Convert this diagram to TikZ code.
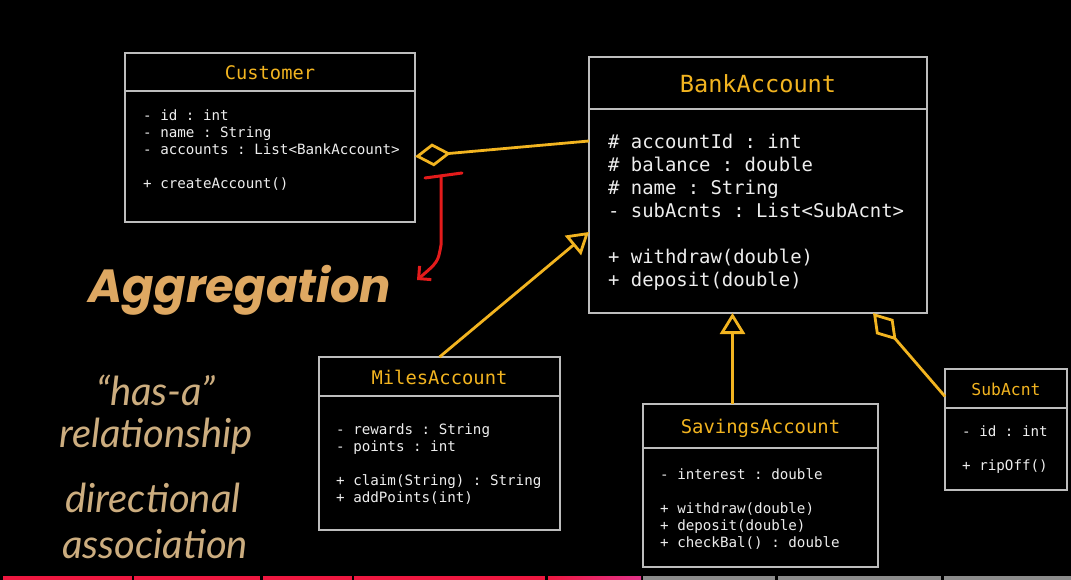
\documentclass[tikz,border=0pt]{standalone}
\usepackage{fontspec}
\setmonofont{DejaVu Sans Mono}
\newfontfamily\bannerfont{Poppins}
\newfontfamily\notefont{Lato}
\usepackage{tikz}
\usetikzlibrary{positioning, arrows.meta}
\definecolor{uBack}{HTML}{000000}
\definecolor{uGray}{HTML}{BDBDBD}
\definecolor{uGold}{HTML}{F2B420}
\definecolor{uInk}{HTML}{EDEDED}
\definecolor{uTan}{HTML}{DEA862}
\definecolor{uSand}{HTML}{CCAD7F}
\definecolor{uPen}{HTML}{E31B1B}
\definecolor{uBar}{HTML}{EE1840}
\definecolor{uBarPink}{HTML}{E3348A}
\definecolor{uBarDim}{HTML}{8C8C8C}
\tikzset{
  clshead/.style={draw=uGray, line width=2.6pt, fill=uBack, text=uGold, inner sep=0pt, outer sep=0pt,
    anchor=north west, font=\fontsize{#1}{#1}\selectfont\ttfamily, text height=0.8*#1pt, text depth=0pt},
  clsbody/.style={draw=uGray, line width=2.6pt, inner sep=0pt, outer sep=0pt},
  members/.style={text=uInk, align=left, inner sep=0pt, anchor=north west,
    font=\fontsize{14.2}{17}\selectfont\ttfamily},
  bigmembers/.style={members, font=\fontsize{18.9}{23}\selectfont\ttfamily},
  agg/.style={draw=uGold, line width=2.8pt, {Diamond[open, length=36pt, width=23pt]}-},
  inh/.style={draw=uGold, line width=2.8pt, -{Triangle[open, length=21pt, width=25pt]}},
  pen/.style={draw=uPen, line width=3pt, line cap=round, line join=round},
  note/.style={text=uSand, font=\fontsize{40}{44}\selectfont\notefont\itshape}
}

\begin{document}
\begin{tikzpicture}[x=1pt, y=-1pt]
  \fill[uBack] (0,0) rectangle (1071,580);

  % classes
  \node[clshead=18.7, minimum width=290pt, minimum height=38pt] (custH) at (125,53) {Customer};
  \node[clsbody, minimum width=290pt, minimum height=131pt, below=0pt of custH] (custB) {};
  \node[members] (custM) at (143,108) {\strut- id : int\\- name : String\\- accounts : List<BankAccount>\\[17pt]+ createAccount()};

  \node[clshead=23.6, minimum width=338pt, minimum height=52pt] (bankH) at (589,57) {BankAccount};
  \node[clsbody, minimum width=338pt, minimum height=204pt, below=0pt of bankH] (bankB) {};
  \node[bigmembers] (bankM) at (608,132) {\strut\# accountId : int\\\# balance : double\\\# name : String\\- subAcnts : List<SubAcnt>\\[23pt]+ withdraw(double)\\+ deposit(double)};

  \node[clshead=18.8, minimum width=241pt, minimum height=39pt] (milesH) at (319,357) {MilesAccount};
  \node[clsbody, minimum width=241pt, minimum height=134pt, below=0pt of milesH] (milesB) {};
  \node[members] (milesM) at (336,422) {\strut- rewards : String\\- points : int\\[17pt]+ claim(String) : String\\+ addPoints(int)};

  \node[clshead=18.9, minimum width=235pt, minimum height=44pt] (savH) at (643,404) {SavingsAccount};
  \node[clsbody, minimum width=235pt, minimum height=119pt, below=0pt of savH] (savB) {};
  \node[members] (savM) at (660,467) {\strut- interest : double\\[17pt]+ withdraw(double)\\+ deposit(double)\\+ checkBal() : double};

  \node[clshead=16.4, minimum width=122pt, minimum height=39pt] (subH) at (945,369) {SubAcnt};
  \node[clsbody, minimum width=122pt, minimum height=82pt, below=0pt of subH] (subB) {};
  \node[members] (subM) at (962,424) {\strut- id : int\\[17pt]+ ripOff()};

  % relations
  \draw[agg] (custB.east) -- ([yshift=-32pt]bankB.north west);
  \draw[inh] (milesH.north) -- ([yshift=-123pt]bankB.north west);
  \draw[inh] ([xshift=-28pt]savH.north) -- ([xshift=-28pt]savH.north |- bankB.south);
  \draw[agg] ([xshift=-54pt]bankB.south east) -- ([yshift=-8pt]subH.west);

  % side notes
  \node[text=uTan, font=\fontsize{46.5}{50}\selectfont\bannerfont\bfseries\itshape] (aggr) at (240,290) {Aggregation};
  \node[note] (hasa) at (156,390) {“has-a”};
  \node[note] (rel) at (156,436) {relationship};
  \node[note] (dir) at (153,498) {directional};
  \node[note] (assoc) at (155,544) {association};

  % hand drawn mark
  \coordinate (barL) at (425,178);
  \coordinate (barR) at (462,173);
  \coordinate (barM) at (441,176);
  \coordinate (penEnd) at (417,280);
  \draw[pen] (barL) -- (barR);
  \draw[pen, -{Straight Barb[length=9pt, width=18pt]}] (barM) -- (441,245) .. controls (438,262) .. (penEnd);

  % progress bar
  \foreach \a/\b in {3/132, 134/260, 263/352, 354/545}
    \fill[uBar] (\a,576) rectangle (\b,580);
  \shade[left color=uBar, right color=uBarPink] (548,576) rectangle (641,580);
  \foreach \a/\b in {643/775, 778/941, 944/1071}
    \fill[uBarDim] (\a,576) rectangle (\b,580);
\end{tikzpicture}
\end{document}
